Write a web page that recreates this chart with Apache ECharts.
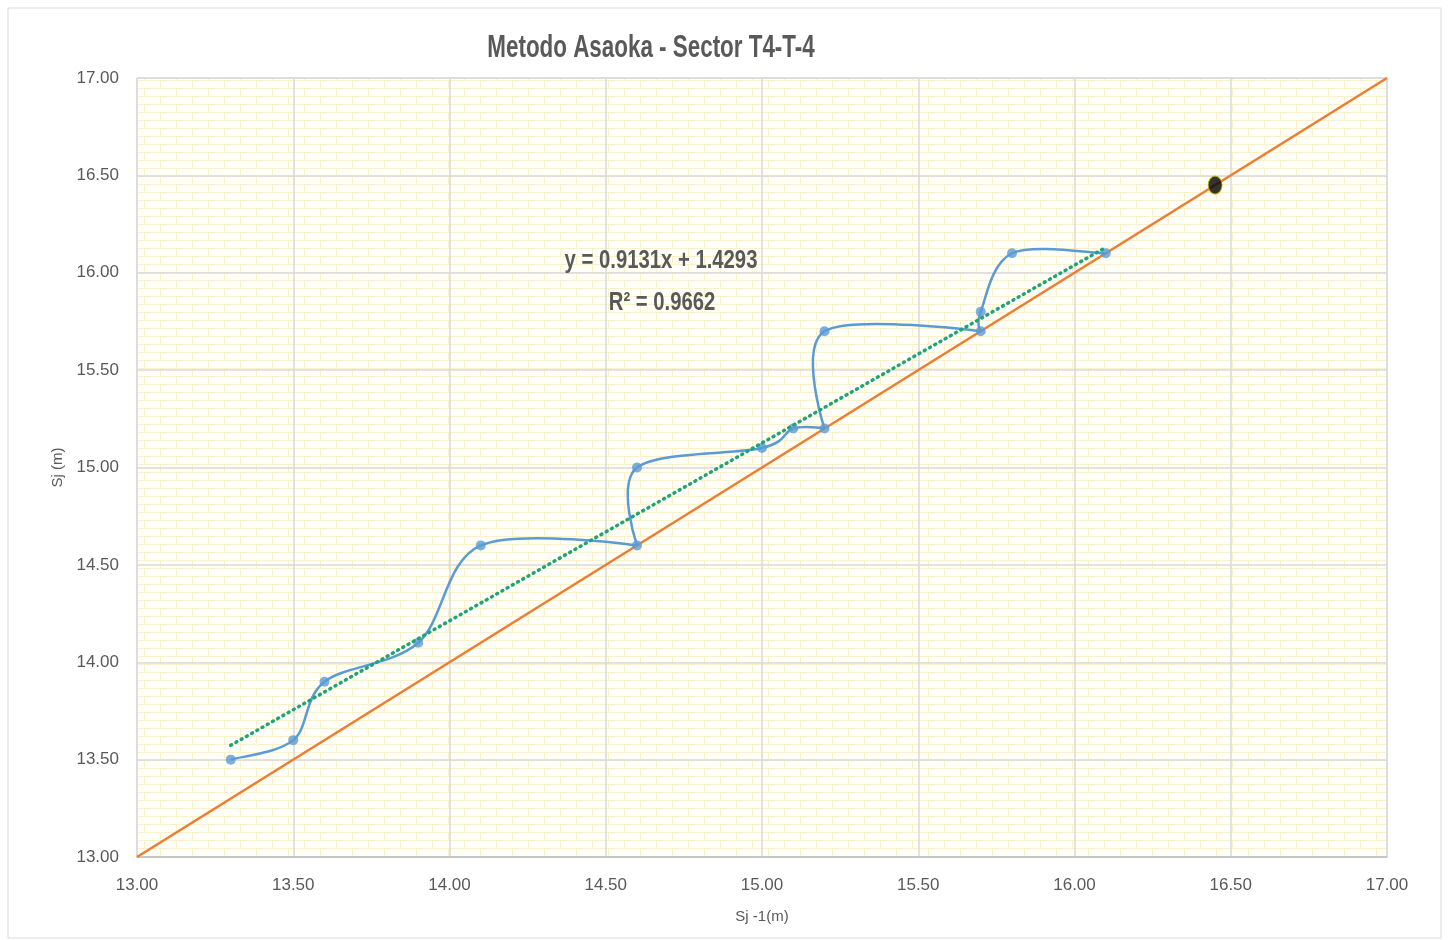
<!DOCTYPE html>
<html><head><meta charset="utf-8">
<script src="https://cdn.jsdelivr.net/npm/echarts@6/dist/echarts.min.js"></script>
<style>html,body{margin:0;padding:0;background:#fff}#c{width:1449px;height:940px}</style>
</head><body><div id="c"></div>
<script>
const titleText = 'Metodo Asaoka - Sector T4-T-4';
const xAxisName = 'Sj -1(m)';
const yAxisName = 'Sj (m)';
const xPrev = [13.3, 13.5, 13.6, 13.9, 14.1, 14.6, 14.6, 15.0, 15.1, 15.2, 15.2, 15.7, 15.7, 15.8, 16.1];
const yCurr = [13.5, 13.6, 13.9, 14.1, 14.6, 14.6, 15.0, 15.1, 15.2, 15.2, 15.7, 15.7, 15.8, 16.1, 16.1];
const trendSlope = 0.9131;
const trendIntercept = 1.4293;
const rSquared = 0.9662;
const identityX = [13, 17];
const finalPoint = [16.45, 16.45];
const axisMin = 13, axisMax = 17, axisStep = 0.5;

const seriesData = xPrev.map((x, i) => [x, yCurr[i]]);
const xs = xPrev.slice().sort((a,b)=>a-b);
const trendData = [xs[0], xs[xs.length-1]].map(x => [x, trendSlope * x + trendIntercept]);
const identityData = identityX.map(x => [x, x]);

// brick pattern
const pc = document.createElement('canvas');
pc.width = 32; pc.height = 16;
const g = pc.getContext('2d');
g.fillStyle = '#fffef7'; g.fillRect(0,0,32,16);
g.fillStyle = '#fbf1c8';
g.fillRect(0,0,32,1); g.fillRect(0,8,32,1);
g.fillRect(0,0,1,8); g.fillRect(16,8,1,8);

// Excel-like smoothed segment (Catmull-Rom; a point followed by a vertical step gets no arm)
function armVec(pts, i) {
  const n = pts.length;
  const p = pts[i];
  const prev = pts[Math.max(0, i-1)];
  const next = pts[Math.min(n-1, i+1)];
  if (i < n-1 && Math.abs(next[0]-p[0]) < 0.5) return [0, 0];
  return [(next[0]-prev[0])/6, (next[1]-prev[1])/6];
}
function renderSmooth(params, api) {
  const i = params.dataIndex;
  if (i >= seriesData.length - 1) return null;
  const pts = seriesData.map(d => api.coord(d));
  const a = armVec(pts, i), b = armVec(pts, i+1);
  const p1 = pts[i], p2 = pts[i+1];
  return {type:'bezierCurve',
    shape:{x1:p1[0],y1:p1[1],x2:p2[0],y2:p2[1],cpx1:p1[0]+a[0],cpy1:p1[1]+a[1],cpx2:p2[0]-b[0],cpy2:p2[1]-b[1]},
    style:{stroke:'#5b9bd5',lineWidth:2.5,fill:null}};
}

const chart = echarts.init(document.getElementById('c'));
const fmt = v => v.toFixed(2);
const FF = '"Liberation Sans", Arial, sans-serif';
const labelFont = {fontFamily:FF, fontSize:17, color:'#595959'};
chart.setOption({
  animation:false,
  backgroundColor:'#ffffff',
  grid:{left:137,top:78,right:62,bottom:83,show:true,
    backgroundColor:{image:pc,repeat:'repeat'},borderColor:'#d9d9d9',borderWidth:1},
  xAxis:{type:'value',min:axisMin,max:axisMax,interval:axisStep,
    name:xAxisName,nameLocation:'middle',nameGap:52,
    nameTextStyle:{fontFamily:FF,fontSize:15,color:'#595959'},
    axisLine:{show:true,lineStyle:{color:'#bfbfbf',width:1.5}},axisTick:{show:false},
    axisLabel:Object.assign({formatter:fmt,margin:20},labelFont),
    splitLine:{show:true,lineStyle:{color:'#d9d9d9',width:1.5}}},
  yAxis:{type:'value',min:axisMin,max:axisMax,interval:axisStep,
    name:yAxisName,nameLocation:'middle',nameGap:66,nameRotate:90,
    nameTextStyle:{fontFamily:FF,fontSize:15,color:'#595959'},
    axisLine:{show:false},axisTick:{show:false},
    axisLabel:Object.assign({formatter:fmt,margin:18},labelFont),
    splitLine:{show:true,lineStyle:{color:'#d9d9d9',width:1.5}}},
  graphic:[
    {type:'rect',shape:{x:8,y:8,width:1433,height:930},style:{fill:'none',stroke:'#d9d9d9',lineWidth:1},silent:true,z:-1},
    {type:'text',x:651,y:48,scaleX:0.70,style:{text:titleText,x:0,y:0,textAlign:'center',textVerticalAlign:'middle',
      font:'bold 32px ' + FF,fill:'#595959'},z:10},
    {type:'text',x:661,y:261,scaleX:0.78,style:{text:'y = ' + trendSlope + 'x + ' + trendIntercept,x:0,y:0,textAlign:'center',textVerticalAlign:'middle',
      font:'bold 26px ' + FF,fill:'#595959'},z:10},
    {type:'text',x:662,y:303,scaleX:0.78,style:{text:'R² = ' + rSquared,x:0,y:0,textAlign:'center',textVerticalAlign:'middle',
      font:'bold 26px ' + FF,fill:'#595959'},z:10}
  ],
  series:[
    {type:'line',data:identityData,showSymbol:false,lineStyle:{color:'#ed7d31',width:2.5},z:2},
    {type:'custom',data:seriesData,renderItem:renderSmooth,z:3,silent:true},
    {type:'scatter',data:seriesData,symbol:'circle',symbolSize:10,itemStyle:{color:'#5b9bd5'},z:4},
    {type:'line',data:trendData,showSymbol:false,lineStyle:{color:'#1fa37b',width:3.5,type:[1,5],cap:'round'},z:5},
    {type:'scatter',data:[finalPoint],symbol:'circle',symbolSize:[14,18],
      itemStyle:{color:'#000000',borderColor:'#c9b600',borderWidth:1},z:6}
  ]
});
</script></body></html>
